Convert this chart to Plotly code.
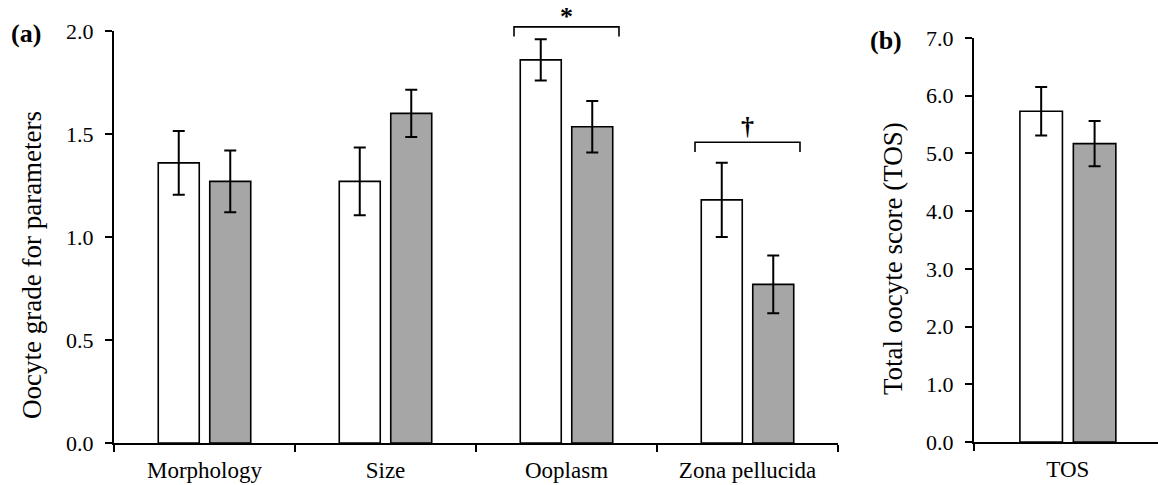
import plotly.graph_objects as go

# ---------------- data ----------------
categories = ["Morphology", "Size", "Ooplasm", "Zona pellucida"]
group1_mean = [1.36, 1.27, 1.86, 1.18]
group1_err = [0.155, 0.165, 0.10, 0.18]
group2_mean = [1.27, 1.60, 1.535, 0.77]
group2_err = [0.15, 0.115, 0.125, 0.14]

tos_category = ["TOS"]
tos_group1_mean = [5.73]
tos_group1_err = [0.42]
tos_group2_mean = [5.17]
tos_group2_err = [0.39]

y_ticks_a = [0.0, 0.5, 1.0, 1.5, 2.0]
y_ticks_b = [0.0, 1.0, 2.0, 3.0, 4.0, 5.0, 6.0, 7.0]

sig_categories = ["Ooplasm", "Zona pellucida"]
sig_marks = ["*", "\u2020"]
sig_levels = [2.02, 1.46]

# ---------------- style ----------------
W, H = 1158, 485
FONT = "Liberation Serif"
GRAY = "#A6A6A6"

xdom_a = [114 / W, 838 / W]
ydom_a = [1 - 443 / H, 1 - 31 / H]
xdom_b = [974 / W, 1.0]
ydom_b = [1 - 442 / H, 1 - 38 / H]
ymax_a = 2.0
ymax_b = 7.0


def to_paper(v, ymax, dom):
    return dom[0] + v / ymax * (dom[1] - dom[0])


def bar(x, y, err, color, xa, ya):
    return go.Bar(
        x=x, y=y,
        error_y=dict(type="data", array=err, color="black", thickness=2, width=6),
        marker=dict(color=color, line=dict(color="black", width=1.6)),
        xaxis=xa, yaxis=ya, showlegend=False, hoverinfo="skip",
    )


fig = go.Figure()
fig.add_trace(bar(categories, group1_mean, group1_err, "white", "x", "y"))
fig.add_trace(bar(categories, group2_mean, group2_err, GRAY, "x", "y"))
fig.add_trace(bar(tos_category, tos_group1_mean, tos_group1_err, "white", "x2", "y2"))
fig.add_trace(bar(tos_category, tos_group2_mean, tos_group2_err, GRAY, "x2", "y2"))

axis_common = dict(
    showline=True, linecolor="black", linewidth=2,
    ticks="outside", ticklen=7, tickwidth=1.6, tickcolor="black",
    showgrid=False, zeroline=False, automargin=False,
)

fig.update_layout(
    width=W, height=H,
    margin=dict(l=0, r=0, t=0, b=0),
    paper_bgcolor="white", plot_bgcolor="white",
    barmode="group", bargap=0.431, bargroupgap=0.204,
    font=dict(family=FONT, color="black"),
    xaxis=dict(domain=xdom_a, anchor="y", type="category", range=[-0.5, 3.5],
               tickson="boundaries", ticklabelstandoff=5,
               tickfont=dict(family=FONT, size=23, color="black"), **axis_common),
    yaxis=dict(domain=ydom_a, anchor="x", range=[0, ymax_a],
               tickvals=y_ticks_a, ticktext=[f"{v:.1f}" for v in y_ticks_a],
               ticklabelstandoff=7,
               tickfont=dict(family=FONT, size=22, color="black"), **axis_common),
    xaxis2=dict(domain=xdom_b, anchor="y2", type="category", range=[-0.5, 0.48],
                tickson="boundaries", ticklabelstandoff=5,
                tickfont=dict(family=FONT, size=23, color="black"), **axis_common),
    yaxis2=dict(domain=ydom_b, anchor="x2", range=[0, ymax_b],
                tickvals=y_ticks_b, ticktext=[f"{v:.1f}" for v in y_ticks_b],
                ticklabelstandoff=7,
                tickfont=dict(family=FONT, size=22, color="black"), **axis_common),
)

annotations = [
    dict(text="Oocyte grade for parameters", textangle=-90, x=32 / W, y=1 - 265 / H,
         xref="paper", yref="paper", showarrow=False, xanchor="center", yanchor="middle",
         font=dict(family=FONT, size=27, color="black")),
    dict(text="Total oocyte score (TOS)", textangle=-90, x=893 / W, y=1 - 259 / H,
         xref="paper", yref="paper", showarrow=False, xanchor="center", yanchor="middle",
         font=dict(family=FONT, size=27, color="black")),
    dict(text="<b>(a)</b>", x=26 / W, y=1 - 34 / H, xref="paper", yref="paper",
         showarrow=False, xanchor="center", yanchor="middle",
         font=dict(family=FONT, size=26, color="black")),
    dict(text="<b>(b)</b>", x=886 / W, y=1 - 40 / H, xref="paper", yref="paper",
         showarrow=False, xanchor="center", yanchor="middle",
         font=dict(family=FONT, size=26, color="black")),
]

shapes = []
half = 0.29
drop = 0.047
mark_sizes = [26, 26]
mark_shift = [-6, -1]
for cat, mark, lvl, ms, sh in zip(sig_categories, sig_marks, sig_levels, mark_sizes, mark_shift):
    ci = categories.index(cat)
    ytop = to_paper(lvl, ymax_a, ydom_a)
    ybot = to_paper(lvl - drop, ymax_a, ydom_a)
    shapes.append(dict(type="path", xref="x", yref="paper",
                       path=f"M {ci - half},{ybot} L {ci - half},{ytop} L {ci + half},{ytop} L {ci + half},{ybot}",
                       line=dict(color="black", width=1.6)))
    annotations.append(dict(text=f"<b>{mark}</b>", x=ci, y=ytop, xref="x", yref="paper",
                            showarrow=False, xanchor="center", yanchor="bottom",
                            yshift=sh, font=dict(family=FONT, size=ms, color="black")))

fig.update_layout(annotations=annotations, shapes=shapes)
fig.write_html("out.html")
